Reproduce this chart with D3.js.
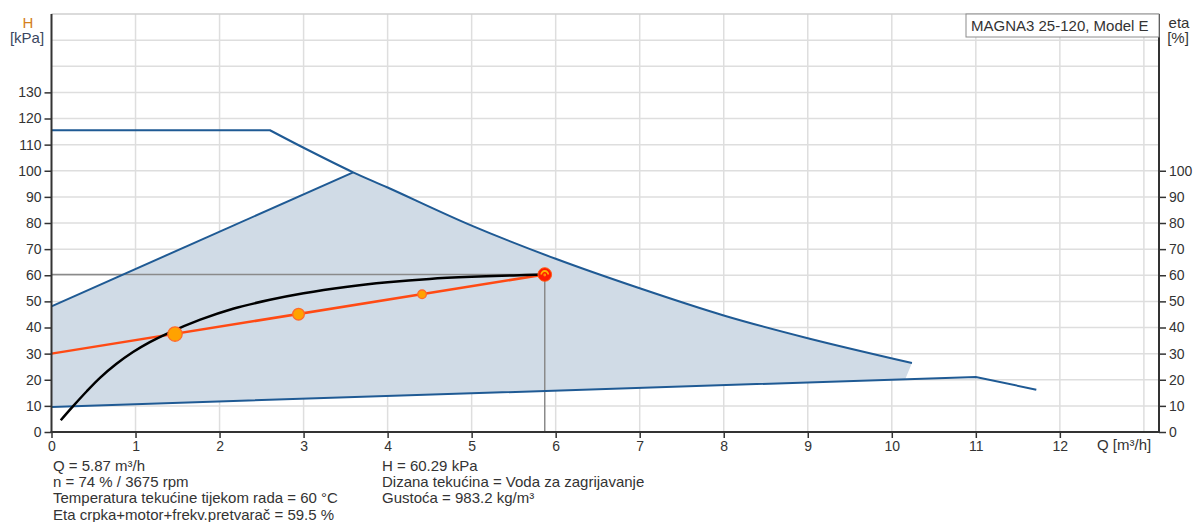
<!DOCTYPE html>
<html>
<head>
<meta charset="utf-8">
<script src="https://cdn.jsdelivr.net/npm/d3@7/dist/d3.min.js"></script>
<style>
  html, body { margin: 0; padding: 0; background: #fff; }
  svg { display: block; font-family: "Liberation Sans", Arial, sans-serif; }
</style>
</head>
<body>
<svg id="chart" width="1195" height="522"></svg>
<script>
// Axis ticks
const qTicks = [0, 1, 2, 3, 4, 5, 6, 7, 8, 9, 10, 11, 12];
const qGrid = [1, 2, 3, 4, 5, 6, 7, 8, 9, 10, 11, 12, 13];
const hTicks = [0, 10, 20, 30, 40, 50, 60, 70, 80, 90, 100, 110, 120, 130];
const hGrid = [10, 20, 30, 40, 50, 60, 70, 80, 90, 100, 110, 120, 130, 140, 150];
const etaTicks = [0, 10, 20, 30, 40, 50, 60, 70, 80, 90, 100];

// Maximum pump curve (Q m³/h, H kPa): flat part, then falling part
const maxFlatQ = [0, 2.6];
const maxFlatH = [115.5, 115.5];
const maxQ = [2.6, 3.0, 3.59, 4.0, 5.0, 6.0, 7.0, 8.0, 9.0, 10.24];
const maxH = [115.5, 108.8, 99.4, 93.6, 79.0, 66.3, 55.0, 44.6, 35.9, 26.4];

// Minimum pump curve
const minQ = [0, 11.0, 11.72];
const minH = [9.6, 21.06, 16.2];

// Proportional-pressure limit line
const propQ = [0, 3.59];
const propH = [48.1, 99.4];

// Lower right corner of the operating range
const rangeEdgeQ = [10.16];
const rangeEdgeH = [20.2];

// Actual pump curve through the duty point
const sysQ = [0.11, 0.26, 0.42, 0.58, 0.77, 0.97, 1.17, 1.37, 1.77, 2.16, 2.6, 3.0, 3.5, 4.0, 4.5, 5.0, 5.5, 5.87];
const sysH = [4.5, 10.0, 15.6, 20.8, 26.0, 30.6, 34.4, 37.6, 43.0, 47.2, 50.6, 53.1, 55.5, 57.3, 58.6, 59.4, 59.95, 60.29];

// Control curve
const ctrlQ = [0, 5.87];
const ctrlH = [30.0, 60.29];
const ctrlMarkQ = [1.47, 2.94, 4.41];
const ctrlMarkH = [37.5, 45.1, 52.7];

// Duty point
const dutyQ = 5.87;
const dutyH = 60.29;

const infoLeft = [
  "Q = 5.87 m³/h",
  "n = 74 % / 3675 rpm",
  "Temperatura tekućine tijekom rada = 60 °C",
  "Eta crpka+motor+frekv.pretvarač = 59.5 %"
];
const infoRight = [
  "H = 60.29 kPa",
  "Dizana tekućina = Voda za zagrijavanje",
  "Gustoća = 983.2 kg/m³"
];
const modelName = "MAGNA3 25-120, Model E";

const zip = (xs, ys) => xs.map((v, i) => [v, ys[i]]);

const svg = d3.select("#chart");
const pLeft = 51.5, pRight = 1159, pTop = 14, pBottom = 432;

const x = d3.scaleLinear().domain([0, 13.18]).range([pLeft, pRight]);
const y = d3.scaleLinear().domain([0, 160]).range([pBottom, pTop]);
const yEta = d3.scaleLinear().domain([0, 160]).range([pBottom, pTop]);

const line = d3.line().x(d => x(d[0])).y(d => y(d[1]));
const smooth = d3.line().x(d => x(d[0])).y(d => y(d[1])).curve(d3.curveCatmullRom.alpha(0.5));

// Grid
const grid = svg.append("g");
grid.selectAll(".gv").data(qGrid).join("line")
  .attr("x1", d => x(d)).attr("x2", d => x(d))
  .attr("y1", pTop).attr("y2", pBottom)
  .attr("stroke", "#dedede").attr("stroke-width", 1.5);
grid.selectAll(".gh").data(hGrid).join("line")
  .attr("x1", pLeft).attr("x2", pRight)
  .attr("y1", d => y(d)).attr("y2", d => y(d))
  .attr("stroke", "#dedede").attr("stroke-width", 1.5);
grid.append("line").attr("x1", pLeft).attr("x2", pRight).attr("y1", pTop).attr("y2", pTop)
  .attr("stroke", "#cfcfcf").attr("stroke-width", 1.5);

// Operating range: limit line, upper part of the max curve, then back along the min curve
const maxTail = zip(maxQ, maxH).filter(d => d[0] >= propQ[1]);
const lowerEdge = zip(rangeEdgeQ, rangeEdgeH)
  .concat(zip(minQ, minH).filter(d => d[0] < rangeEdgeQ[0]).reverse());
const areaPath = line(zip(propQ, propH))
  + smooth(maxTail).replace(/^M/, "L")
  + line(lowerEdge).replace(/^M/, "L") + "Z";
svg.append("path").attr("d", areaPath).attr("fill", "#d0dbe6").attr("stroke", "none");

// Duty point guide lines
svg.append("line").attr("x1", pLeft).attr("x2", x(dutyQ))
  .attr("y1", y(dutyH)).attr("y2", y(dutyH))
  .attr("stroke", "#8a8a8a").attr("stroke-width", 1.5);
svg.append("line").attr("x1", x(dutyQ)).attr("x2", x(dutyQ))
  .attr("y1", y(dutyH)).attr("y2", pBottom)
  .attr("stroke", "#8a8a8a").attr("stroke-width", 1.5);

// Blue curves
const blue = "#1f5a94";
svg.append("path").attr("d", line(zip(maxFlatQ, maxFlatH)) + smooth(zip(maxQ, maxH)).replace(/^M/, "L"))
  .attr("fill", "none").attr("stroke", blue).attr("stroke-width", 2);
svg.append("path").attr("d", line(zip(propQ, propH))).attr("fill", "none")
  .attr("stroke", blue).attr("stroke-width", 2);
svg.append("path").attr("d", line(zip(minQ, minH))).attr("fill", "none")
  .attr("stroke", blue).attr("stroke-width", 2);

// Control curve and pump curve
svg.append("path").attr("d", line(zip(ctrlQ, ctrlH))).attr("fill", "none")
  .attr("stroke", "#ff4a14").attr("stroke-width", 2.5);
svg.append("path").attr("d", smooth(zip(sysQ, sysH))).attr("fill", "none")
  .attr("stroke", "#000").attr("stroke-width", 2.5);

const markR = [7.2, 5.8, 4.3];
svg.selectAll(".mk").data(zip(ctrlMarkQ, ctrlMarkH)).join("circle")
  .attr("cx", d => x(d[0])).attr("cy", d => y(d[1]))
  .attr("r", (d, i) => markR[i])
  .attr("fill", "#ffa200").attr("stroke", "#ff6a2a").attr("stroke-width", 1.3);

// Duty point marker
const dp = svg.append("g").attr("transform", `translate(${x(dutyQ)},${y(dutyH)})`);
dp.append("circle").attr("r", 6.8).attr("fill", "#ff1a00").attr("stroke", "#ff5a10").attr("stroke-width", 1);
dp.append("path").attr("d", d3.arc()({innerRadius: 2.6, outerRadius: 4.4, startAngle: -Math.PI / 2, endAngle: Math.PI / 2}))
  .attr("fill", "#ffb300");
dp.append("circle").attr("r", 1.4).attr("cy", 0.5).attr("fill", "#ff9000");

// Axes
const textColor = "#333";
const axL = svg.append("g").attr("transform", `translate(${pLeft},0)`)
  .call(d3.axisLeft(y).tickValues(hTicks).tickSize(7).tickPadding(3));
const axR = svg.append("g").attr("transform", `translate(${pRight},0)`)
  .call(d3.axisRight(yEta).tickValues(etaTicks).tickSize(7).tickPadding(3));
const axB = svg.append("g").attr("transform", `translate(0,${pBottom})`)
  .call(d3.axisBottom(x).tickValues(qTicks).tickSize(6).tickPadding(3));
[axL, axR, axB].forEach(g => {
  g.select(".domain").remove();
  g.selectAll(".tick line").attr("stroke", "#333").attr("stroke-width", 1.5);
  g.selectAll(".tick text").attr("fill", textColor).style("font-size", "14px")
    .style("font-family", '"Liberation Sans", Arial, sans-serif');
});
svg.append("line").attr("x1", pLeft).attr("x2", pLeft).attr("y1", pTop).attr("y2", pBottom + 1)
  .attr("stroke", "#333").attr("stroke-width", 2);
svg.append("line").attr("x1", pRight).attr("x2", pRight).attr("y1", pTop).attr("y2", pBottom + 1)
  .attr("stroke", "#333").attr("stroke-width", 2);
svg.append("line").attr("x1", pLeft - 1).attr("x2", pRight + 1).attr("y1", pBottom).attr("y2", pBottom)
  .attr("stroke", "#333").attr("stroke-width", 2);

// Axis titles
const fs = "15px";
svg.append("text").attr("x", 28).attr("y", 28).attr("text-anchor", "middle")
  .attr("fill", "#d4801c").style("font-size", fs).text("H");
svg.append("text").attr("x", 27).attr("y", 43).attr("text-anchor", "middle")
  .attr("fill", "#3a4660").style("font-size", fs).text("[kPa]");
svg.append("text").attr("x", 1179).attr("y", 28).attr("text-anchor", "middle")
  .attr("fill", textColor).style("font-size", fs).text("eta");
svg.append("text").attr("x", 1178).attr("y", 43).attr("text-anchor", "middle")
  .attr("fill", textColor).style("font-size", fs).text("[%]");
svg.append("text").attr("x", 1097).attr("y", 450)
  .attr("fill", textColor).style("font-size", fs).text("Q [m³/h]");

// Model box
svg.append("rect").attr("x", 966).attr("y", pTop).attr("width", pRight - 966).attr("height", 23)
  .attr("fill", "#fff").attr("stroke", "#8c8c8c").attr("stroke-width", 1);
svg.append("text").attr("x", 971).attr("y", 31)
  .attr("fill", textColor).style("font-size", fs).text(modelName);

// Operating data
svg.selectAll(".il").data(infoLeft).join("text")
  .attr("x", 53).attr("y", (d, i) => 471 + i * 16.2)
  .attr("fill", textColor).style("font-size", fs).text(d => d);
svg.selectAll(".ir").data(infoRight).join("text")
  .attr("x", 382).attr("y", (d, i) => 471 + i * 16.2)
  .attr("fill", textColor).style("font-size", fs).text(d => d);
</script>
</body>
</html>
